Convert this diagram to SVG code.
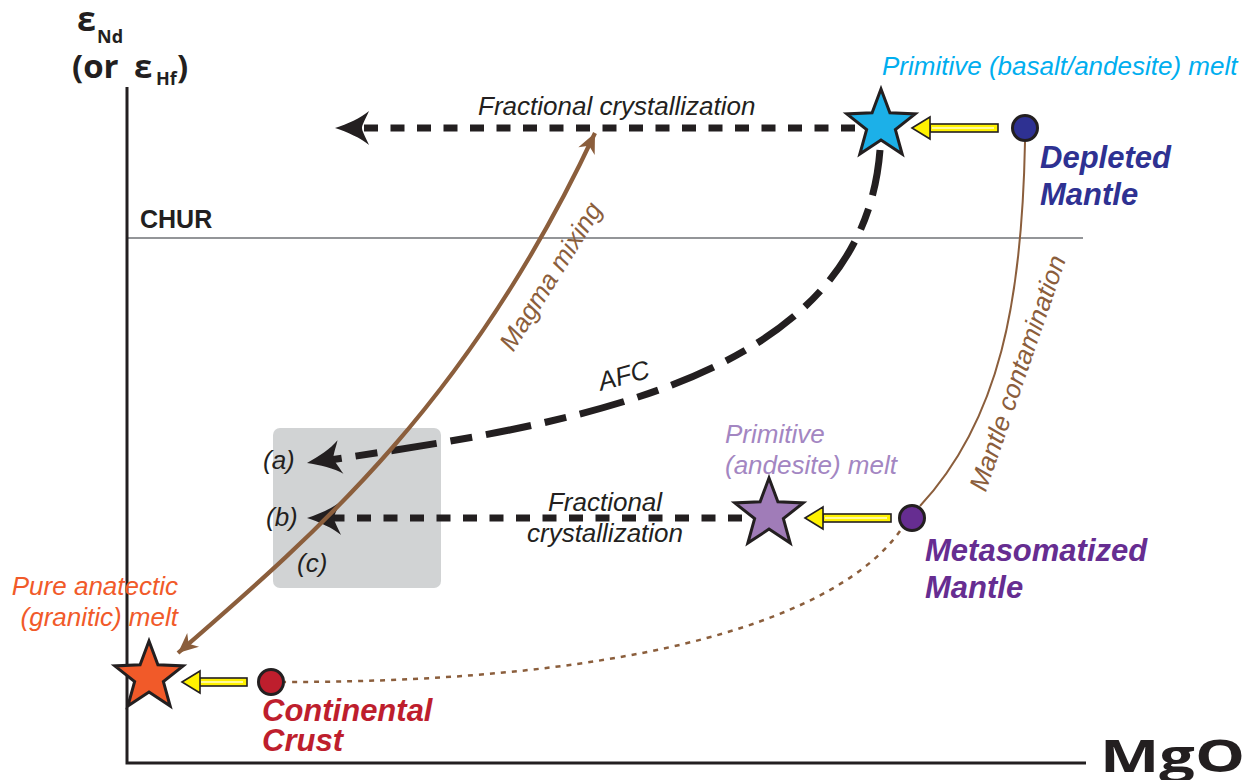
<svg xmlns="http://www.w3.org/2000/svg" width="1259" height="780" viewBox="0 0 1259 780">
<style>
.lbl{font-family:"Liberation Sans",Arial,sans-serif;font-style:italic;font-size:26px}
.big{font-family:"Liberation Sans",Arial,sans-serif;font-style:italic;font-weight:bold;font-size:31px}
.ax{font-family:"Open Sans","DejaVu Sans",sans-serif;font-weight:bold;fill:#231f20}
.star{stroke:#231f20;stroke-width:3}
.dot{stroke:#231f20;stroke-width:3}
.ysh{fill:#fff200;stroke:#231f20;stroke-width:1.6}
.yhl{stroke:#fffbd0;stroke-width:1.5}
.dash{fill:none;stroke:#231f20;stroke-width:7;stroke-dasharray:14 12.5}
.brown{fill:none;stroke:#8b5e3c}
.bt{fill:#8b5e3c}
</style>
<defs>
<polygon id="star" points="0,-36 8.89,-12.23 34.24,-11.12 14.38,4.67 21.16,29.12 0,15.12 -21.16,29.12 -14.38,4.67 -34.24,-11.12 -8.89,-12.23"/>
<path id="ah" d="M0,0 C12,-4 26,-10 34,-17 C30,-8 27,-3 27,0 C27,3 30,8 34,17 C26,10 12,4 0,0 Z" fill="#231f20"/>
<polygon id="yhead" class="ysh" points="0,0 18,-11 18,11"/>
<marker id="bh" viewBox="-22 -11 24 22" refX="0" refY="0" markerWidth="24" markerHeight="22" markerUnits="userSpaceOnUse" orient="auto-start-reverse"><path d="M0,0 L-20,-9 L-14,0 L-20,9 Z" fill="#8b5e3c"/></marker>
</defs>
<rect width="1259" height="780" fill="#ffffff"/>

<g id="axes">
<rect x="273" y="428" width="168" height="160" rx="7" fill="#d1d3d4"/>
<line x1="127" y1="238" x2="1083" y2="238" stroke="#939598" stroke-width="2"/>
<polyline points="127,87 127,763 1086,763" fill="none" stroke="#231f20" stroke-width="3"/>
<text class="ax" x="77" y="31" font-size="34">ε</text>
<text class="ax" x="97" y="43" font-size="18">Nd</text>
<text class="ax" y="78" font-size="33"><tspan x="72">(or</tspan><tspan x="134">ε</tspan></text>
<text class="ax" x="156" y="85" font-size="18">Hf</text>
<text class="ax" x="177" y="78" font-size="33">)</text>
<text class="ax" x="1100" y="772" font-size="44" textLength="145" lengthAdjust="spacingAndGlyphs">MgO</text>
<text x="140" y="228" font-family="Liberation Sans, Arial, sans-serif" font-weight="bold" font-size="25" fill="#231f20">CHUR</text>
</g>

<g id="connectors">
<line class="dash" x1="855" y1="128" x2="362" y2="128"/>
<use href="#ah" transform="translate(335,128)"/>
<line class="dash" x1="742" y1="518" x2="330" y2="518"/>
<use href="#ah" transform="translate(307,518)"/>
<path d="M880,150 C862,385 560,425 330,460" fill="none" stroke="#231f20" stroke-width="7" stroke-dasharray="46 14 22 14"/>
<use href="#ah" transform="translate(307,463) rotate(-10)"/>
<path class="brown" stroke-width="2" d="M1025,142 C1022,300 1000,420 920,506"/>
<path class="brown" stroke-width="2.5" stroke-dasharray="5 6" d="M900,531 C840,615 650,682 285,682"/>
<path class="brown" stroke-width="4.2" d="M178,653 C320,530 470,400 595,133" marker-start="url(#bh)" marker-end="url(#bh)"/>
<text class="lbl" fill="#231f20" x="478" y="115">Fractional crystallization</text>
<text class="lbl" fill="#231f20" text-anchor="middle"><tspan x="605" y="511">Fractional</tspan><tspan x="605" y="542">crystallization</tspan></text>
<text class="lbl" fill="#231f20" text-anchor="middle" transform="translate(626,384) rotate(-15)">AFC</text>
<text class="lbl bt" text-anchor="middle" transform="translate(558,281) rotate(-58)">Magma mixing</text>
<text class="lbl bt" text-anchor="middle" transform="translate(1026,376) rotate(-71)">Mantle contamination</text>
<text class="lbl" fill="#231f20" x="263" y="469">(a)</text>
<text class="lbl" fill="#231f20" x="266" y="526">(b)</text>
<text class="lbl" fill="#231f20" x="297" y="572">(c)</text>
</g>

<g id="depleted-mantle">
<rect class="ysh" x="930" y="124" width="68" height="8"/>
<line class="yhl" x1="932" y1="128" x2="994" y2="128"/>
<use href="#yhead" transform="translate(912,128)"/>
<circle class="dot" cx="1025" cy="128" r="12.5" fill="#2e3192"/>
<text class="big" fill="#2e3192"><tspan x="1040" y="168">Depleted</tspan><tspan x="1040" y="205">Mantle</tspan></text>
</g>

<g id="primitive-basalt-melt">
<use href="#star" class="star" fill="#1cb0e8" transform="translate(881,125)"/>
<text class="lbl" fill="#00aeef" x="882" y="75">Primitive (basalt/andesite) melt</text>
</g>

<g id="metasomatized-mantle">
<rect class="ysh" x="823" y="514" width="68" height="8"/>
<line class="yhl" x1="825" y1="518" x2="887" y2="518"/>
<use href="#yhead" transform="translate(805,518)"/>
<circle class="dot" cx="912" cy="518" r="12.5" fill="#662d91"/>
<text class="big" fill="#662d91"><tspan x="925" y="561">Metasomatized</tspan><tspan x="925" y="598">Mantle</tspan></text>
</g>

<g id="primitive-andesite-melt">
<use href="#star" class="star" fill="#a07cb8" transform="translate(769,514)"/>
<text class="lbl" fill="#a386c2"><tspan x="725" y="443">Primitive</tspan><tspan x="725" y="474">(andesite) melt</tspan></text>
</g>

<g id="continental-crust">
<rect class="ysh" x="199" y="678" width="48" height="8"/>
<line class="yhl" x1="201" y1="682" x2="243" y2="682"/>
<use href="#yhead" transform="translate(182,682)"/>
<circle class="dot" cx="271" cy="682" r="12.5" fill="#be1e2d"/>
<text class="big" fill="#be1e2d"><tspan x="262" y="721">Continental</tspan><tspan x="262" y="751">Crust</tspan></text>
</g>

<g id="anatectic-melt">
<use href="#star" class="star" fill="#f15a29" transform="translate(149,677)"/>
<text class="lbl" fill="#f15a29" text-anchor="end"><tspan x="178" y="595">Pure anatectic</tspan><tspan x="178" y="626">(granitic) melt</tspan></text>
</g>
</svg>
